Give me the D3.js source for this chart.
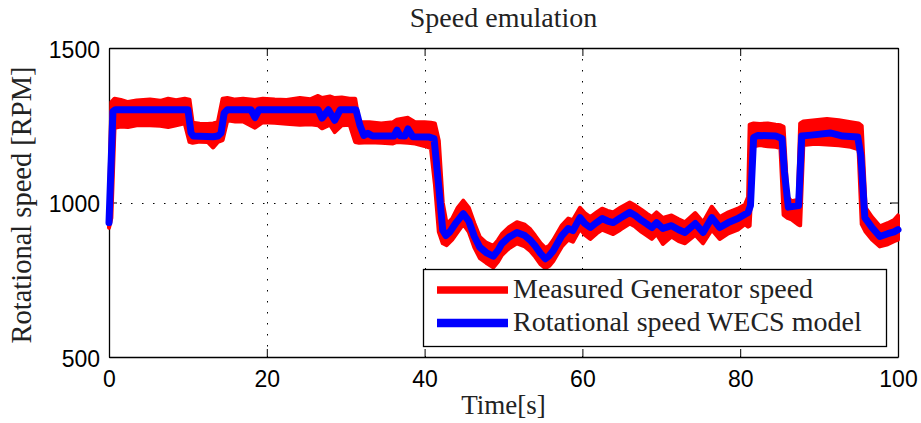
<!DOCTYPE html>
<html>
<head>
<meta charset="utf-8">
<script src="https://cdn.jsdelivr.net/npm/d3@7/dist/d3.min.js"></script>
<style>
  html, body { margin: 0; padding: 0; background: #fff; }
  svg { display: block; }
</style>
</head>
<body>
<svg id="chart" width="921" height="423"></svg>
<script>
// ---- data -------------------------------------------------------------
const timeTicks = [0, 20, 40, 60, 80, 100];
const speedTicks = [500, 1000, 1500];
const seriesNames = ["Measured Generator speed", "Rotational speed WECS model"];

// WECS model output [RPM] over time [s]
const modelTime = [0,0.5,0.8,10.0,10.4,10.7,13.2,13.8,14.2,14.6,
  15.0,18.0,18.5,19.0,26.5,27.0,27.8,28.6,29.3,31.3,
  31.8,32.3,32.8,33.4,36.1,36.5,36.9,37.5,37.9,38.5,
  40.5,41.2,41.8,42.3,42.7,43.2,44.0,44.9,45.6,46.3,
  47.0,47.8,48.7,49.3,49.8,50.7,51.7,52.7,53.4,54.0,
  54.7,55.3,55.8,56.3,57.4,58.2,58.8,59.7,60.3,61.0,
  61.8,62.5,63.2,63.9,64.8,66.0,66.7,67.5,68.2,68.8,
  69.4,70.2,71.3,72.2,73.0,74.3,75.3,76.4,77.4,78.5,
  79.7,81.0,81.3,81.7,82.2,84.5,85.3,85.6,86.1,87.4,
  87.8,89.0,91.4,93.0,94.9,95.3,95.8,96.7,97.7,98.7,
  99.5,100];
const modelSpeed = [935,1295,1300,1300,1225,1215,1213,1215,1225,1290,
  1300,1300,1275,1300,1300,1273,1300,1266,1300,1300,
  1250,1217,1224,1215,1215,1234,1216,1215,1238,1213,
  1212,1207,1050,910,893,905,935,964,940,890,
  855,838,826,845,867,888,903,893,878,860,
  835,818,828,844,893,916,909,951,932,919,
  935,948,940,935,950,968,958,942,930,919,
  935,916,925,912,903,932,903,951,919,935,
  948,968,990,1210,1217,1215,1207,1100,985,990,
  1215,1218,1225,1215,1212,1150,951,919,890,899,
  905,912];

// Measured generator speed: upper / lower envelope of the noisy signal [RPM]
const measuredTime = [0,0.3,0.7,1.5,2.4,3.5,5.2,6.5,7.5,8.5,
  9.6,10.2,10.6,11.5,12.5,13.2,13.8,14.4,15.0,16.0,
  17.0,18.5,19.5,21.0,22.5,24.2,25.5,26.5,27.0,28.0,
  28.6,29.5,30.5,31.2,31.7,33.0,34.5,36.0,36.5,37.9,
  38.8,40.0,40.8,41.3,41.8,42.3,42.8,43.5,44.2,44.9,
  45.6,46.3,47.0,47.8,48.7,49.3,49.8,50.7,51.7,52.7,
  53.4,54.0,54.7,55.3,55.8,56.3,57.4,58.2,58.8,59.7,
  60.3,61.0,61.8,62.5,63.2,63.9,64.8,66.0,66.7,67.5,
  68.2,68.8,69.4,70.2,71.3,72.2,73.0,74.3,75.3,76.4,
  77.4,78.5,79.7,80.6,81.0,81.2,81.7,82.5,83.5,84.5,
  85.1,85.5,86.0,86.5,87.3,87.6,88.0,89.5,91.0,92.5,
  94.0,95.0,95.4,95.9,96.7,97.7,98.7,99.5,100];
const measuredHigh = [992,1325,1336,1332,1325,1330,1333,1329,1336,1331,
  1336,1333,1258,1255,1254,1256,1260,1336,1338,1333,
  1336,1332,1336,1333,1332,1338,1334,1345,1338,1343,
  1338,1340,1336,1336,1260,1260,1256,1260,1268,1274,
  1260,1260,1258,1256,1200,1000,930,948,983,1006,
  983,933,888,870,860,878,898,920,936,928,
  913,893,868,853,860,878,926,948,943,983,
  966,953,968,980,973,968,983,1000,990,976,
  963,953,968,950,958,946,936,966,936,986,
  953,968,980,993,1018,1252,1256,1254,1256,1252,
  1250,1245,1018,1004,1008,1256,1262,1266,1270,1266,
  1260,1256,1248,983,953,923,933,943,958];
const measuredLow = [918,950,1242,1246,1244,1250,1250,1248,1244,1250,
  1256,1196,1193,1197,1196,1178,1196,1202,1266,1262,
  1262,1242,1260,1258,1255,1252,1253,1250,1240,1252,
  1228,1250,1252,1196,1193,1195,1193,1191,1196,1193,
  1191,1183,1176,1060,905,868,862,880,905,930,
  905,855,820,805,790,808,830,852,868,858,
  843,825,800,787,795,810,858,880,873,915,
  896,882,900,912,905,898,912,932,922,905,
  893,882,898,866,890,875,868,895,868,912,
  882,900,912,930,922,925,1182,1186,1182,1180,
  1176,960,950,945,930,926,1186,1190,1188,1185,
  1180,1172,930,905,880,858,865,875,880];

// ---- layout -----------------------------------------------------------
const W = 921, H = 423;
const plot = { left: 109, right: 898, top: 48, bottom: 357 };
const RED = "#ff0000", BLUE = "#0000ff";
const SERIF = "'Liberation Serif', 'Times New Roman', serif";
const SANS = "'Liberation Sans', Arial, Helvetica, sans-serif";

const svg = d3.select("#chart");
svg.append("rect").attr("width", W).attr("height", H).attr("fill", "#fff");

const x = d3.scaleLinear().domain([0, 100]).range([plot.left, plot.right]);
const y = d3.scaleLinear().domain([500, 1500]).range([plot.bottom, plot.top]);
const fmt = d3.format("d");

// dotted grid (inner ticks only)
const grid = svg.append("g").attr("stroke", "#000").attr("stroke-width", 1)
  .attr("stroke-dasharray", "1.5,9.5").attr("fill", "none");
grid.selectAll("line.vx")
  .data(timeTicks.filter(t => t > 0 && t < 100))
  .join("line").attr("class", "vx")
  .attr("x1", d => Math.round(x(d)) + 0.5).attr("x2", d => Math.round(x(d)) + 0.5)
  .attr("y1", plot.top).attr("y2", plot.bottom);
grid.selectAll("line.hy")
  .data(speedTicks.filter(v => v > 500 && v < 1500))
  .join("line").attr("class", "hy")
  .attr("x1", plot.left).attr("x2", plot.right)
  .attr("y1", d => Math.round(y(d)) + 0.5).attr("y2", d => Math.round(y(d)) + 0.5);

// axes with inward ticks
const tickLen = 8;
function styleAxis(g, withLabels) {
  g.select(".domain").attr("stroke", "#000").attr("stroke-width", 1.3);
  g.selectAll(".tick line").attr("stroke", "#000").attr("stroke-width", 1);
  g.selectAll(".tick text").attr("fill", "#000")
    .style("font-family", SANS).style("font-size", "23px");
  if (!withLabels) g.selectAll(".tick text").remove();
}
svg.append("g").attr("transform", `translate(0,${plot.bottom})`)
  .call(d3.axisBottom(x).tickValues(timeTicks).tickFormat(fmt)
    .tickSizeInner(-tickLen).tickSizeOuter(0).tickPadding(14))
  .call(g => styleAxis(g, true));
svg.append("g").attr("transform", `translate(0,${plot.top})`)
  .call(d3.axisTop(x).tickValues(timeTicks).tickSizeInner(-tickLen).tickSizeOuter(0).tickFormat(""))
  .call(g => styleAxis(g, false));
svg.append("g").attr("transform", `translate(${plot.left},0)`)
  .call(d3.axisLeft(y).tickValues(speedTicks).tickFormat(fmt)
    .tickSizeInner(-tickLen).tickSizeOuter(0).tickPadding(9))
  .call(g => styleAxis(g, true))
  .call(g => g.selectAll(".tick text").attr("dy", "0.40em"));
svg.append("g").attr("transform", `translate(${plot.right},0)`)
  .call(d3.axisRight(y).tickValues(speedTicks).tickSizeInner(-tickLen).tickSizeOuter(0).tickFormat(""))
  .call(g => styleAxis(g, false));

// measured speed band
const idx = d3.range(measuredTime.length);
const band = d3.area()
  .x(i => x(measuredTime[i]))
  .y0(i => y(measuredLow[i]))
  .y1(i => y(measuredHigh[i]));
svg.append("path").datum(idx)
  .attr("d", band)
  .attr("fill", RED).attr("stroke", RED).attr("stroke-width", 4)
  .attr("stroke-linejoin", "round");

// model speed line
const line = d3.line()
  .x(i => x(modelTime[i]))
  .y(i => y(modelSpeed[i]));
svg.append("path").datum(d3.range(modelTime.length))
  .attr("d", line)
  .attr("fill", "none").attr("stroke", BLUE).attr("stroke-width", 7)
  .attr("stroke-linejoin", "round").attr("stroke-linecap", "round");

// titles
svg.append("text").attr("x", (plot.left + plot.right) / 2).attr("y", 27)
  .attr("text-anchor", "middle").attr("fill", "#222")
  .style("font-family", SERIF).style("font-size", "28px")
  .text("Speed emulation");
svg.append("text").attr("x", (plot.left + plot.right) / 2).attr("y", 414)
  .attr("text-anchor", "middle").attr("fill", "#222")
  .style("font-family", SERIF).style("font-size", "27px")
  .text("Time[s]");
svg.append("text")
  .attr("transform", `translate(31,205) rotate(-90)`)
  .attr("text-anchor", "middle").attr("fill", "#222")
  .style("font-family", SERIF).style("font-size", "28.5px")
  .text("Rotational speed [RPM]");

// legend
const lg = svg.append("g");
lg.append("rect").attr("x", 423.5).attr("y", 269.5).attr("width", 463).attr("height", 77)
  .attr("fill", "#fff").attr("stroke", "#000").attr("stroke-width", 1.3);
const legendRows = [
  { name: seriesNames[0], color: RED, width: 7.5, y: 290 },
  { name: seriesNames[1], color: BLUE, width: 8.5, y: 323 }
];
legendRows.forEach(r => {
  lg.append("line").attr("x1", 437).attr("x2", 508).attr("y1", r.y).attr("y2", r.y)
    .attr("stroke", r.color).attr("stroke-width", r.width);
  lg.append("text").attr("x", 513).attr("y", r.y + 7.5).attr("fill", "#222")
    .style("font-family", SERIF).style("font-size", "28px")
    .text(r.name);
});
</script>
</body>
</html>
